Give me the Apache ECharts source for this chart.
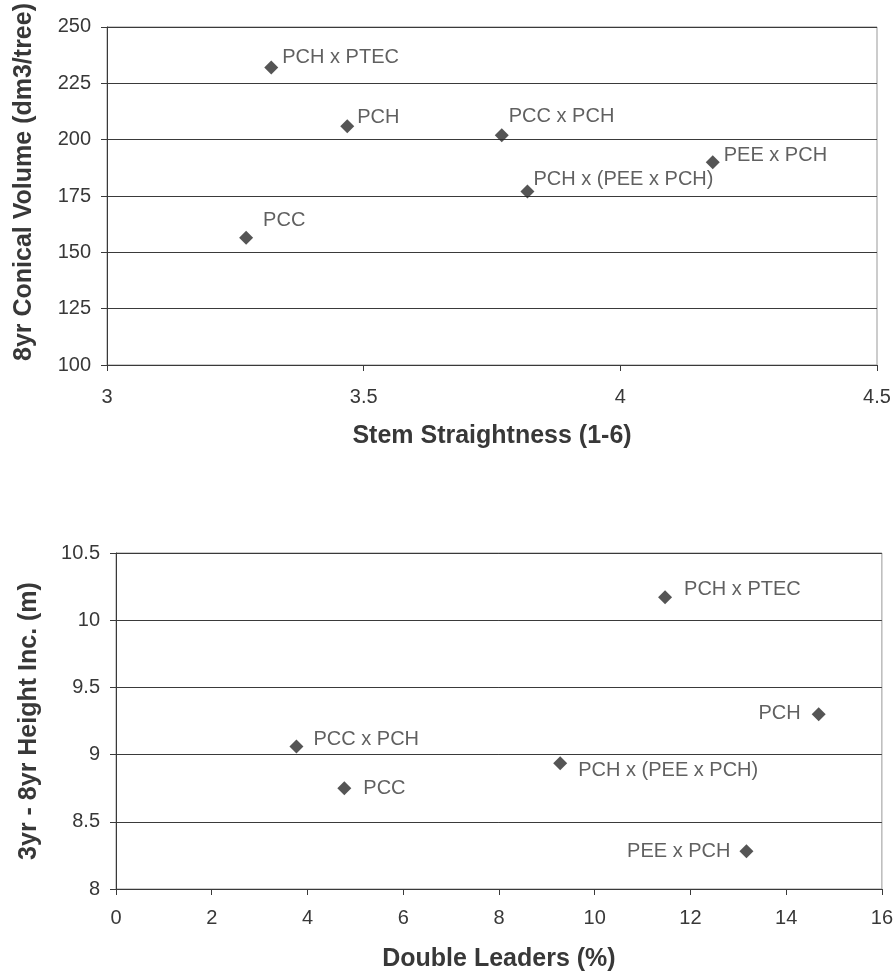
<!DOCTYPE html>
<html>
<head>
<meta charset="utf-8">
<script src="https://cdn.jsdelivr.net/npm/echarts@6/dist/echarts.min.js"></script>
<style>html,body{margin:0;padding:0;background:#fff}#c{width:896px;height:978px}</style>
</head>
<body>
<div id="c"></div>
<script>
// ---- Data ----
const topNames = ['PCH x PTEC', 'PCH', 'PCC', 'PCC x PCH', 'PCH x (PEE x PCH)', 'PEE x PCH'];
const topStraightness = [3.32, 3.468, 3.271, 3.769, 3.819, 4.18];
const topVolume = [232, 206, 156.5, 202, 177, 190];
const topXTicks = [3, 3.5, 4, 4.5];
const topYTicks = [100, 125, 150, 175, 200, 225, 250];

const botNames = ['PCC x PCH', 'PCC', 'PCH x PTEC', 'PCH', 'PCH x (PEE x PCH)', 'PEE x PCH'];
const botDoubleLeaders = [3.77, 4.77, 11.47, 14.68, 9.28, 13.17];
const botHeightInc = [9.06, 8.75, 10.17, 9.30, 8.935, 8.28];
const botXTicks = [0, 2, 4, 6, 8, 10, 12, 14, 16];
const botYTicks = [8, 8.5, 9, 9.5, 10, 10.5];

// ---- Label layout (style only) ----
const topLabelLayout = [
  ['right', [-1, -10]], ['right', [-2, -9]], ['right', [5, -17]],
  ['right', [-5, -19]], ['right', [-6, -12]], ['right', [-1, -7]]
];
const botLabelLayout = [
  ['right', [5, -7]], ['right', [7, 0]], ['right', [7, -8]],
  ['left', [-6, -1]], ['right', [6, 7]], ['left', [-4, 0]]
];

const FONT = 'Liberation Sans, Arial, sans-serif';
const TXT = '#383838';

function buildData(names, xs, ys, layout) {
  return names.map((n, i) => ({
    name: n,
    value: [xs[i], ys[i]],
    label: { show: true, formatter: n, position: layout[i][0], offset: layout[i][1] }
  }));
}

const chart = echarts.init(document.getElementById('c'));

function xAxisCfg(gridIndex, ticks, name, gap, margin) {
  return {
    gridIndex, type: 'value', name, nameLocation: 'middle', nameGap: gap,
    min: ticks[0], max: ticks[ticks.length - 1], interval: ticks[1] - ticks[0],
    nameTextStyle: { fontFamily: FONT, fontWeight: 'bold', fontSize: 25, color: TXT },
    axisLine: { show: true, lineStyle: { color: '#3a3a3a', width: 1 } },
    axisTick: { show: true, inside: false, length: 6, lineStyle: { color: '#3a3a3a' } },
    axisLabel: { fontFamily: FONT, fontSize: 20, color: TXT, margin },
    splitLine: { show: false }
  };
}
function yAxisCfg(gridIndex, ticks, name, gap, shiftUp) {
  return {
    gridIndex, type: 'value', name, nameLocation: 'middle', nameGap: gap,
    min: ticks[0], max: ticks[ticks.length - 1], interval: ticks[1] - ticks[0],
    nameTextStyle: { fontFamily: FONT, fontWeight: 'bold', fontSize: 25, color: TXT,
      padding: [0, 0, 0, shiftUp * 2] },
    axisLine: { show: true, lineStyle: { color: '#3a3a3a', width: 1 } },
    axisTick: { show: true, inside: false, length: 6, lineStyle: { color: '#3a3a3a' } },
    axisLabel: { fontFamily: FONT, fontSize: 20, color: TXT, margin: 16 },
    splitLine: { show: true, lineStyle: { color: '#3a3a3a', width: 1 } }
  };
}

chart.setOption({
  backgroundColor: '#fff',
  animation: false,
  grid: [
    { left: 107, right: 19, top: 26, height: 339, show: true, borderColor: '#999', borderWidth: 1 },
    { left: 116, right: 14, top: 553, height: 336, show: true, borderColor: '#999', borderWidth: 1 }
  ],
  xAxis: [
    xAxisCfg(0, topXTicks, 'Stem Straightness (1-6)', 59, 22),
    xAxisCfg(1, botXTicks, 'Double Leaders (%)', 58, 19)
  ],
  yAxis: [
    yAxisCfg(0, topYTicks, '8yr Conical Volume (dm3/tree)', 70, 14),
    yAxisCfg(1, botYTicks, '3yr - 8yr Height Inc. (m)', 74, 0)
  ],
  series: [
    {
      type: 'scatter', xAxisIndex: 0, yAxisIndex: 0,
      symbol: 'diamond', symbolSize: 14,
      itemStyle: { color: '#2b2b2b' },
      label: { fontFamily: FONT, fontSize: 20, color: TXT, distance: 5 },
      data: buildData(topNames, topStraightness, topVolume, topLabelLayout)
    },
    {
      type: 'scatter', xAxisIndex: 1, yAxisIndex: 1,
      symbol: 'diamond', symbolSize: 14,
      itemStyle: { color: '#2b2b2b' },
      label: { fontFamily: FONT, fontSize: 20, color: TXT, distance: 5 },
      data: buildData(botNames, botDoubleLeaders, botHeightInc, botLabelLayout)
    }
  ]
});
</script>
</body>
</html>
